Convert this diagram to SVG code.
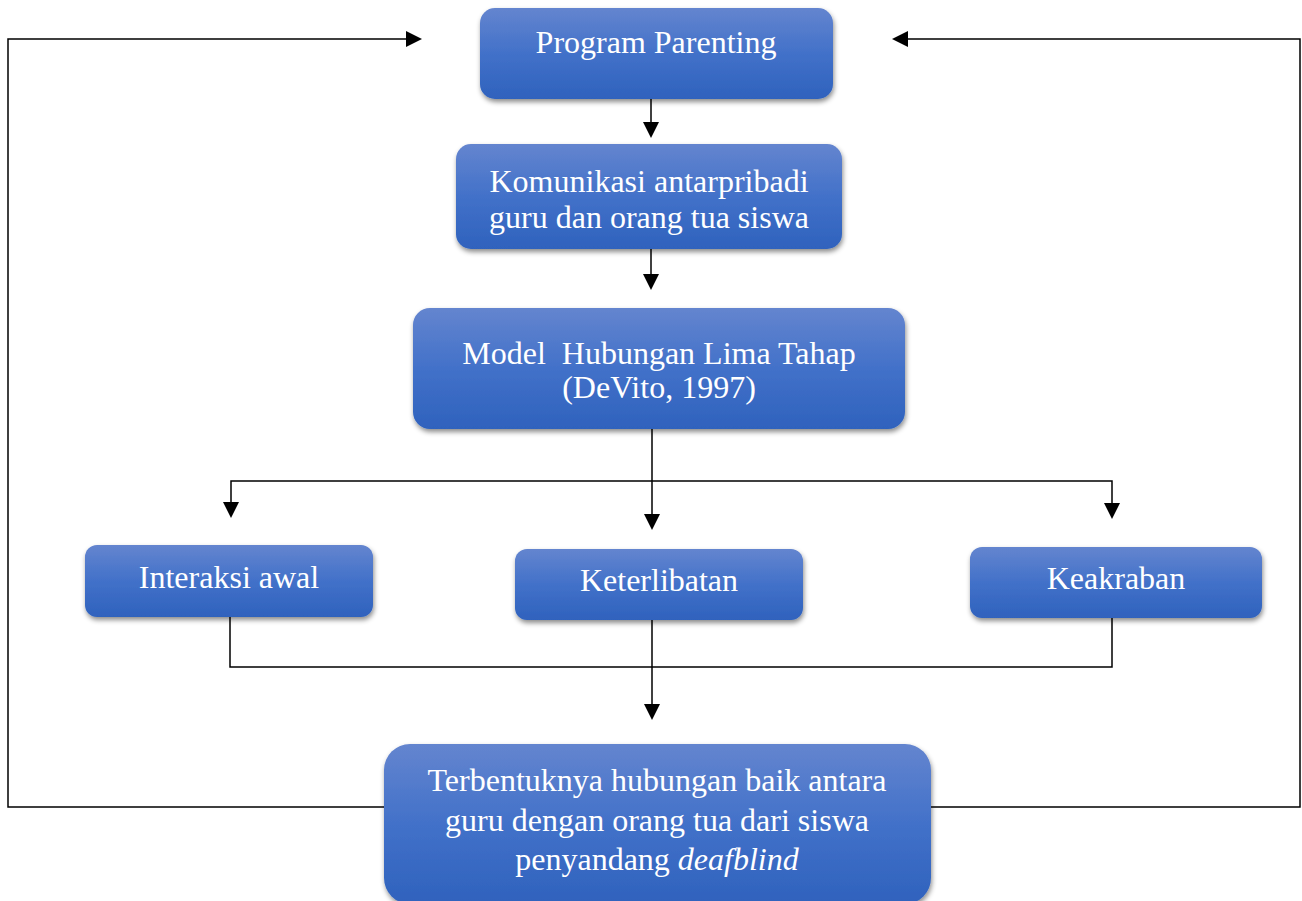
<svg xmlns="http://www.w3.org/2000/svg" width="1302" height="901" viewBox="0 0 1302 901">
<style>
.box{fill:url(#g);filter:url(#sh);}
.t{font-family:"Liberation Serif","Times New Roman",serif;font-size:32px;fill:#ffffff;text-anchor:middle;}
.c{fill:none;stroke:#000;stroke-width:1.5;}
.a{fill:none;stroke:#000;stroke-width:1.5;marker-end:url(#ar);}
</style>
<defs>
<linearGradient id="g" x1="0" y1="0" x2="0" y2="1">
<stop offset="0" stop-color="#6485cf"/>
<stop offset="0.5" stop-color="#4271c9"/>
<stop offset="1" stop-color="#2f62bd"/>
</linearGradient>
<filter id="sh" x="-10%" y="-20%" width="120%" height="150%">
<feDropShadow dx="1" dy="3" stdDeviation="2.5" flood-color="#000" flood-opacity="0.45"/>
</filter>
<marker id="ar" markerWidth="10" markerHeight="10" refX="10" refY="5" orient="auto" markerUnits="userSpaceOnUse" viewBox="0 0 10 10">
<path d="M0,0 L10,5 L0,10 Z" fill="#000"/>
</marker>
</defs>
<rect width="1302" height="901" fill="#fff"/>
<g id="connectors">
<path class="c" d="M384,807 H8 V39 H410"/>
<path d="M406,31 L422,39 L406,47 Z"/>
<path class="c" d="M931,807 H1300 V39 H904"/>
<path d="M908,31 L892,39 L908,47 Z"/>
<path class="c" d="M651,99 V124"/>
<path d="M643,122 L651,138 L659,122 Z"/>
<path class="c" d="M651,249 V276"/>
<path d="M643,274 L651,290 L659,274 Z"/>
<path class="c" d="M652,429 V516"/>
<path d="M644,514 L652,530 L660,514 Z"/>
<path class="c" d="M231,502 V481 H1112 V504"/>
<path d="M223,502 L231,518 L239,502 Z"/>
<path d="M1104,503 L1112,519 L1120,503 Z"/>
<path class="c" d="M230,617 V667 H1112 V618"/>
<path class="c" d="M652,620 V706"/>
<path d="M644,704 L652,720 L660,704 Z"/>
</g>
<g id="n1">
<rect class="box" x="480" y="8" width="353" height="91" rx="15"/>
<text class="t" x="656" y="53">Program Parenting</text>
</g>
<g id="n2">
<rect class="box" x="456" y="144" width="386" height="105" rx="15"/>
<text class="t" x="649" y="192">Komunikasi antarpribadi</text>
<text class="t" x="649" y="228">guru dan orang tua siswa</text>
</g>
<g id="n3">
<rect class="box" x="413" y="308" width="492" height="121" rx="17"/>
<text class="t" x="659" y="364" xml:space="preserve">Model  Hubungan Lima Tahap</text>
<text class="t" x="659" y="398">(DeVito, 1997)</text>
</g>
<g id="n4">
<rect class="box" x="85" y="545" width="288" height="72" rx="12"/>
<text class="t" x="229" y="588">Interaksi awal</text>
</g>
<g id="n5">
<rect class="box" x="515" y="549" width="288" height="71" rx="12"/>
<text class="t" x="659" y="591">Keterlibatan</text>
</g>
<g id="n6">
<rect class="box" x="970" y="547" width="292" height="71" rx="12"/>
<text class="t" x="1116" y="589">Keakraban</text>
</g>
<g id="n7">
<rect class="box" x="384" y="744" width="547" height="160" rx="26"/>
<text class="t" x="657" y="791">Terbentuknya hubungan baik antara</text>
<text class="t" x="657" y="831">guru dengan orang tua dari siswa</text>
<text class="t" x="657" y="870">penyandang <tspan font-style="italic">deafblind</tspan></text>
</g>
</svg>
